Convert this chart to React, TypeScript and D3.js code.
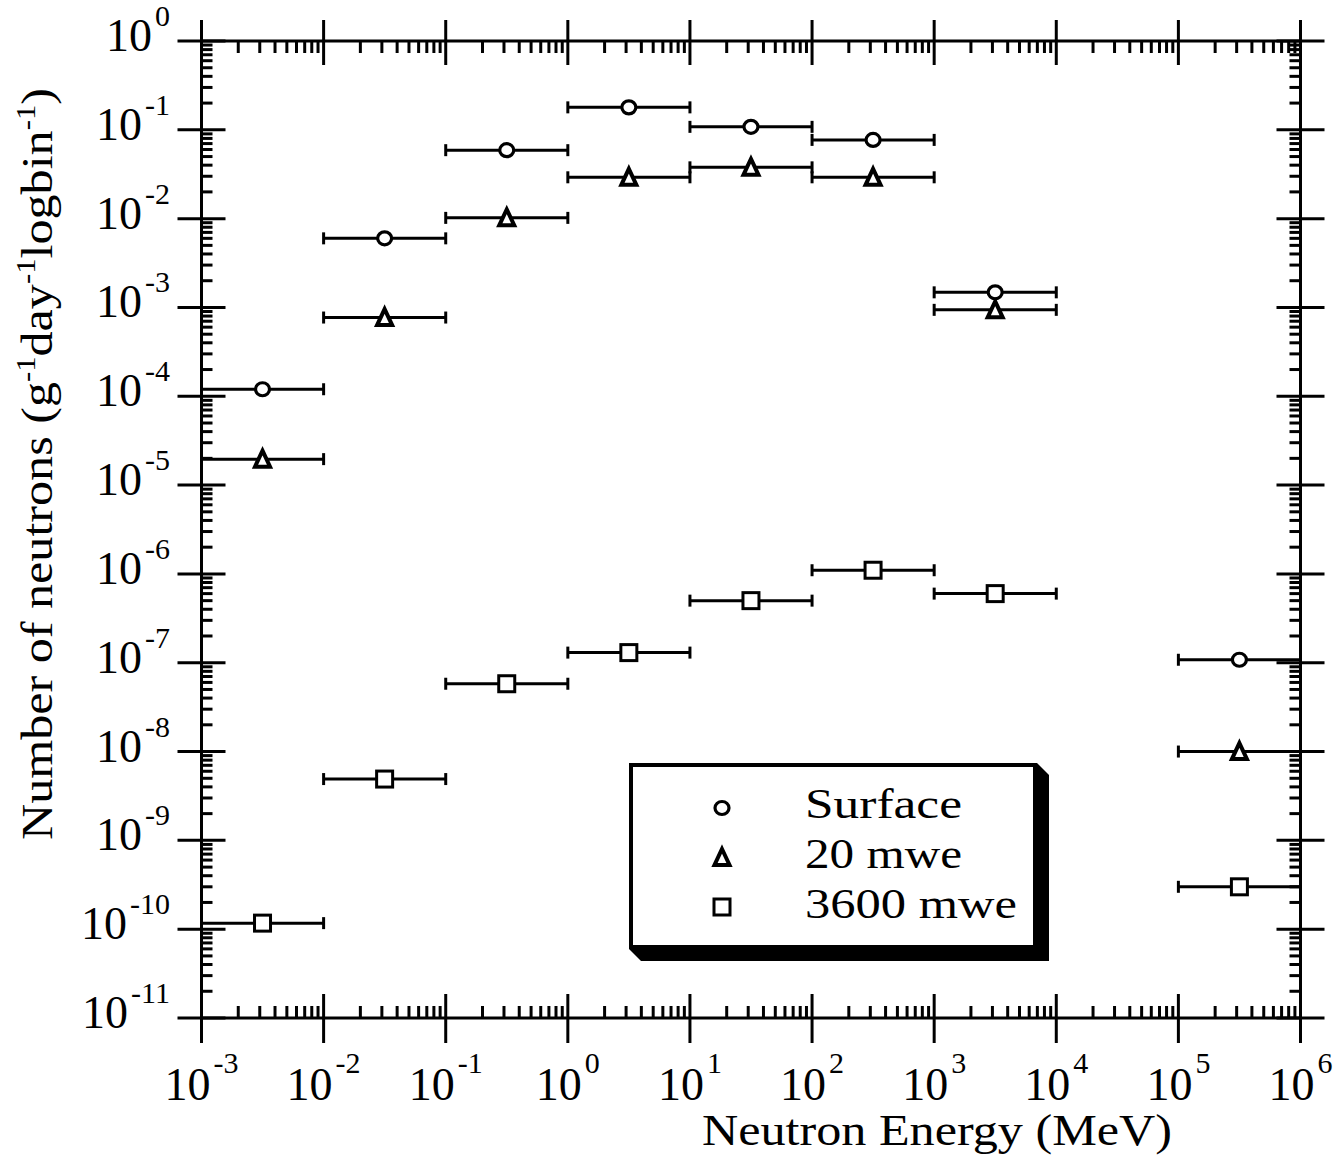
import React from "react";
import * as d3 from "d3";

// energy bins (MeV)
const binLow = [1e-3, 1e-2, 1e-1, 1, 10, 100, 1e3, 1e5];
const binHigh = [1e-2, 1e-1, 1, 10, 100, 1e3, 1e4, 1e6];
const binCenter = [3.16e-3, 3.16e-2, 0.316, 3.16, 31.6, 316, 3160, 3.16e5];

// neutrons per g per day per log bin
const surface = [1.2e-4, 6.0e-3, 0.059, 0.179, 0.108, 0.077, 1.48e-3, 1.08e-7];
const mwe20 = [1.96e-5, 7.7e-4, 0.0102, 0.0292, 0.0378, 0.0292, 9.4e-4, 1.0e-8];
const mwe3600 = [1.17e-10, 4.9e-9, 5.8e-8, 1.3e-7, 5.0e-7, 1.1e-6, 6.0e-7, 3.0e-10];

const seriesNames = ["Surface", "20 mwe", "3600 mwe"];
const seriesShapes = ["circle", "triangle", "square"];
const seriesValues = [surface, mwe20, mwe3600];
const legendWidths = [157, 157, 212];

const xExponents = [-3, -2, -1, 0, 1, 2, 3, 4, 5, 6];
const yExponents = [0, -1, -2, -3, -4, -5, -6, -7, -8, -9, -10, -11];

const W = 1342;
const H = 1160;
const frame = { left: 201.5, right: 1300.5, top: 41, bottom: 1018 };
const font = "'Liberation Serif', serif";
const sw = 3;

function Marker({ shape, cx, cy }) {
  if (shape === "circle") {
    return <ellipse cx={cx} cy={cy} rx={7} ry={6.5} fill="white" stroke="black" strokeWidth={3.2} />;
  }
  if (shape === "triangle") {
    const p = d3.path();
    p.moveTo(cx, cy - 8.5);
    p.lineTo(cx + 7.5, cy + 7.5);
    p.lineTo(cx - 7.5, cy + 7.5);
    p.closePath();
    return <path d={p.toString()} fill="white" stroke="black" strokeWidth={4} strokeLinejoin="miter" />;
  }
  return <rect x={cx - 8} y={cy - 8} width={16} height={16} fill="white" stroke="black" strokeWidth={sw} />;
}

export default function App() {
  const x = d3.scaleLog().domain([1e-3, 1e6]).range([frame.left, frame.right]);
  const y = d3.scaleLog().domain([1e-11, 1]).range([frame.bottom, frame.top]);

  const xMajor = xExponents.map((e) => Math.pow(10, e));
  const yMajor = yExponents.map((e) => Math.pow(10, e));
  const minorOf = (majors) =>
    majors.slice(0, -1).flatMap((m) => d3.range(2, 10).map((k) => m * k));
  const xMinor = minorOf(xMajor);
  const yMinor = minorOf([...yMajor].reverse());

  const ticks = [];
  xMajor.forEach((v, i) => {
    const px = x(v);
    ticks.push(<line key={"xb" + i} x1={px} x2={px} y1={frame.bottom - 24} y2={frame.bottom + 25} />);
    ticks.push(<line key={"xt" + i} x1={px} x2={px} y1={frame.top - 21} y2={frame.top + 24} />);
  });
  xMinor.forEach((v, i) => {
    const px = x(v);
    ticks.push(<line key={"xbm" + i} x1={px} x2={px} y1={frame.bottom} y2={frame.bottom - 12} />);
    ticks.push(<line key={"xtm" + i} x1={px} x2={px} y1={frame.top} y2={frame.top + 12} />);
  });
  yMajor.forEach((v, i) => {
    const py = y(v);
    ticks.push(<line key={"yl" + i} x1={frame.left - 24} x2={frame.left + 24} y1={py} y2={py} />);
    ticks.push(<line key={"yr" + i} x1={frame.right - 24} x2={frame.right + 24} y1={py} y2={py} />);
  });
  yMinor.forEach((v, i) => {
    const py = y(v);
    ticks.push(<line key={"ylm" + i} x1={frame.left} x2={frame.left + 11} y1={py} y2={py} />);
    ticks.push(<line key={"yrm" + i} x1={frame.right} x2={frame.right - 11} y1={py} y2={py} />);
  });

  const bars = [];
  const marks = [];
  seriesValues.forEach((vals, s) => {
    vals.forEach((v, i) => {
      const py = y(v);
      const x0 = x(binLow[i]);
      const x1 = x(binHigh[i]);
      bars.push(
        <g key={`b${s}-${i}`}>
          <line x1={x0} x2={x1} y1={py} y2={py} />
          <line x1={x0} x2={x0} y1={py - 6} y2={py + 6} />
          <line x1={x1} x2={x1} y1={py - 6} y2={py + 6} />
        </g>
      );
      marks.push(<Marker key={`m${s}-${i}`} shape={seriesShapes[s]} cx={x(binCenter[i])} cy={py} />);
    });
  });

  // legend box
  const lg = { x: 631, y: 765, w: 404, h: 182, d: 12 };
  const shadow = [
    [lg.x + lg.w + 2, lg.y - 2],
    [lg.x + lg.w + 2 + lg.d, lg.y - 2 + lg.d],
    [lg.x + lg.w + 2 + lg.d, lg.y + lg.h + 2 + lg.d],
    [lg.x - 2 + lg.d, lg.y + lg.h + 2 + lg.d],
    [lg.x - 2, lg.y + lg.h + 2],
  ];

  return (
    <svg width={W} height={H} style={{ position: "absolute", left: 0, top: 0, background: "white" }}>
      <rect x={0} y={0} width={W} height={H} fill="white" />
      <g stroke="black" strokeWidth={sw}>
        {ticks}
        <rect x={frame.left} y={frame.top} width={frame.right - frame.left} height={frame.bottom - frame.top} fill="none" />
        {bars}
      </g>
      <g>{marks}</g>

      {/* x tick labels */}
      {xExponents.map((e) => (
        <text key={"xl" + e} x={x(Math.pow(10, e))} y={1100} textAnchor="middle" fontFamily={font} fontSize={46}>
          10<tspan dx={3} dy={-27} fontSize={30}>{e}</tspan>
        </text>
      ))}
      {/* y tick labels */}
      {yExponents.map((e) => (
        <text key={"yl" + e} x={170} y={y(Math.pow(10, e)) + 10} textAnchor="end" fontFamily={font} fontSize={46}>
          10<tspan dx={3} dy={-25} fontSize={30}>{e}</tspan>
        </text>
      ))}

      <text x={702} y={1145} fontFamily={font} fontSize={44} textLength={470} lengthAdjust="spacingAndGlyphs">
        Neutron Energy (MeV)
      </text>
      <text
        transform="translate(52,464) rotate(-90)"
        textAnchor="middle"
        fontFamily={font}
        fontSize={44}
        textLength={752}
        lengthAdjust="spacingAndGlyphs"
      >
        Number of neutrons (g<tspan dy={-17} fontSize={27}>-1</tspan>
        <tspan dy={17}>day</tspan>
        <tspan dy={-17} fontSize={27}>-1</tspan>
        <tspan dy={17}>logbin</tspan>
        <tspan dy={-17} fontSize={27}>-1</tspan>
        <tspan dy={17}>)</tspan>
      </text>

      {/* legend */}
      <polygon points={shadow.map((p) => p.join(",")).join(" ")} fill="black" />
      <rect x={lg.x} y={lg.y} width={lg.w} height={lg.h} fill="white" stroke="black" strokeWidth={4} />
      {seriesNames.map((name, i) => (
        <g key={name}>
          <Marker shape={seriesShapes[i]} cx={722} cy={808 + i * 49.5} />
          <text
            x={805}
            y={818 + i * 50}
            fontFamily={font}
            fontSize={42}
            textLength={legendWidths[i]}
            lengthAdjust="spacingAndGlyphs"
          >
            {name}
          </text>
        </g>
      ))}
    </svg>
  );
}
